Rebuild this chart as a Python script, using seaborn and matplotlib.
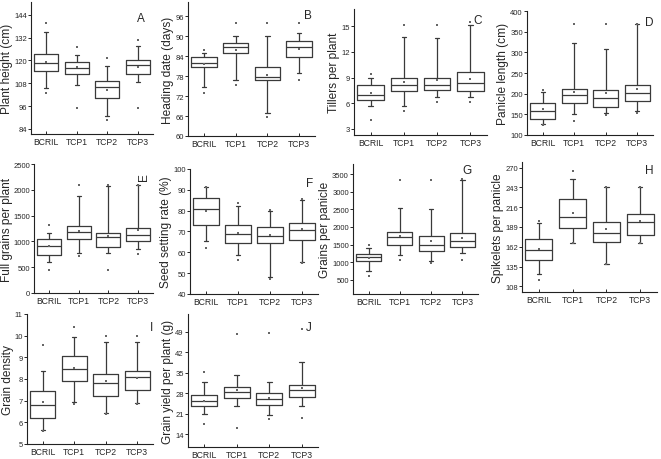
'''
Box plots of ten agronomic traits for BCRIL and three TCP populations.
'''
import matplotlib
matplotlib.use("Agg")
import matplotlib.pyplot as plt
import seaborn as sns
import pandas as pd

GROUPS = ["BCRIL", "TCP1", "TCP2", "TCP3"]

# each row: min, whisker low, Q1, median, Q3, whisker high, max, mean
PLANT_HEIGHT = [[102.8, 105.7, 114.4, 118.6, 123.4, 135.0, 139.7, 119.2],
                [95.0, 107.0, 112.9, 116.1, 119.3, 122.7, 127.0, 116.6],
                [88.8, 90.8, 100.1, 106.2, 109.1, 117.3, 121.3, 104.6],
                [95.0, 108.5, 112.9, 117.7, 120.0, 127.5, 130.6, 116.8]]
HEADING_DATE = [[72.8, 74.8, 80.9, 81.9, 83.9, 84.9, 85.9, 81.6],
                [75.3, 76.8, 84.9, 86.9, 87.9, 90.0, 94.0, 85.9],
                [65.8, 66.8, 76.8, 77.8, 80.9, 90.0, 94.0, 78.3],
                [76.8, 78.9, 83.9, 86.9, 88.7, 91.0, 94.0, 86.2]]
TILLERS = [[4.1, 5.7, 6.4, 7.0, 8.1, 9.0, 9.4, 7.25],
           [5.1, 5.7, 7.4, 8.1, 9.0, 13.7, 15.1, 8.5],
           [6.1, 6.7, 7.6, 8.1, 9.0, 13.6, 15.1, 8.7],
           [6.1, 6.7, 7.4, 8.4, 9.7, 15.1, 15.5, 8.8]]
PANICLE_LENGTH = [[124, 127, 139, 157, 177, 203, 209, 162],
                  [133, 152, 178, 197, 211, 322, 368, 203],
                  [148, 153, 168, 190, 210, 308, 368, 202],
                  [153, 158, 182, 201, 222, 368, 368, 212]]
FULL_GRAINS = [[450, 600, 740, 920, 1040, 1160, 1320, 910],
               [724, 775, 1047, 1176, 1292, 1886, 2093, 1208],
               [452, 775, 885, 1079, 1156, 2067, 2093, 1098],
               [762, 853, 1014, 1124, 1260, 2093, 2093, 1215]]
SEED_SETTING = [[62.0, 65.4, 73.3, 81.0, 86.2, 91.5, 91.5, 79.7],
                [56.2, 58.5, 64.3, 68.6, 73.0, 82.3, 83.9, 69.4],
                [47.4, 48.2, 64.6, 67.8, 72.3, 79.9, 80.2, 68.5],
                [55.0, 55.3, 65.9, 70.9, 74.3, 85.2, 85.5, 71.2]]
GRAINS_PANICLE = [[614, 737, 1022, 1146, 1221, 1411, 1487, 1127],
                  [1060, 1202, 1497, 1706, 1848, 2541, 3348, 1734],
                  [975, 1032, 1307, 1497, 1734, 2513, 3348, 1601],
                  [1060, 1250, 1430, 1592, 1820, 3348, 3367, 1696]]
SPIKELETS = [[116.2, 124.4, 144.0, 157.6, 173.0, 194.9, 196.7, 159.0],
             [166.7, 167.6, 187.6, 202.6, 226.8, 255.0, 265.0, 208.6],
             [138.0, 138.5, 168.5, 180.8, 195.8, 243.0, 243.0, 185.8],
             [166.7, 167.6, 178.5, 195.8, 207.2, 243.0, 243.0, 196.7]]
GRAIN_DENSITY = [[5.6, 5.65, 6.2, 6.8, 7.45, 8.35, 9.55, 6.95],
                 [6.85, 6.95, 7.9, 8.45, 9.05, 9.95, 10.4, 8.5],
                 [6.4, 6.45, 7.2, 7.82, 8.25, 9.7, 10.0, 7.9],
                 [6.85, 6.9, 7.47, 8.07, 8.35, 9.7, 10.0, 8.05]]
GRAIN_YIELD = [[17.4, 20.8, 23.5, 25.2, 27.3, 31.7, 35.1, 25.5],
               [16.3, 23.5, 26.5, 28.6, 30.0, 34.3, 48.2, 29.0],
               [19.1, 20.5, 23.9, 26.2, 28.2, 32.0, 48.4, 26.5],
               [19.7, 23.5, 26.9, 29.0, 30.9, 38.5, 49.9, 29.7]]

YLABELS = ["Plant height (cm)", "Heading date (days)", "Tillers per plant",
           "Panicle length (cm)", "Full grains per plant",
           "Seed setting rate (%)", "Grains per panicle",
           "Spikelets per panicle", "Grain density",
           "Grain yield per plant (g)"]
LETTERS = ["A", "B", "C", "D", "E", "F", "G", "H", "I", "J"]
YTICKS = [[84, 96, 108, 120, 132, 144],
          [60, 66, 72, 78, 84, 90, 96],
          [3, 6, 9, 12, 15],
          [100, 150, 200, 250, 300, 350, 400],
          [0, 500, 1000, 1500, 2000, 2500],
          [40, 50, 60, 70, 80, 90, 100],
          [500, 1000, 1500, 2000, 2500, 3000, 3500],
          [108, 135, 162, 189, 216, 243, 270],
          [5, 6, 7, 8, 9, 10, 11],
          [14, 21, 28, 35, 42, 49]]
YLIMS = [(81.3, 150.8), (60, 100.3), (2.3, 17), (100, 400), (0, 2500),
         (40, 100), (92, 3794), (100.3, 277.7), (5, 11), (9.7, 55)]

PANELS = [PLANT_HEIGHT, HEADING_DATE, TILLERS, PANICLE_LENGTH, FULL_GRAINS,
          SEED_SETTING, GRAINS_PANICLE, SPIKELETS, GRAIN_DENSITY, GRAIN_YIELD]

# axes boxes in pixels: left, top, right, bottom
RECTS = [(31, 3, 153, 135), (188, 3, 315, 137), (354, 10, 487, 136),
         (527, 12, 653, 136), (34, 165, 153, 294), (190, 170, 318, 295),
         (353, 165, 478, 295), (522, 163, 657, 293), (27, 315, 153, 445),
         (188, 315, 318, 448)]
LETTER_POS = [(145, 13), (312, 10), (482, 15), (653, 17), (150, 173),
              (313, 178), (472, 165), (653, 165), (153, 322), (312, 322)]
# y-label centre (x, px) for the panels that sit at the left edge
LABEL_X = {0: 7, 4: 7, 8: 8}

W, H = 661, 460
EDGE = "#3a3a3a"

sns.set_theme(style="ticks")
plt.rcParams["font.family"] = ["Liberation Sans", "DejaVu Sans"]

fig = plt.figure(figsize=(W / 100, H / 100), dpi=100)

for i, rows in enumerate(PANELS):
    l, t, r, b = RECTS[i]
    ax = fig.add_axes([l / W, 1 - b / H, (r - l) / W, (b - t) / H])

    box_df = pd.DataFrame(
        [(g, v) for g, row in zip(GROUPS, rows) for v in row[1:6]],
        columns=["group", "value"])
    pts_df = pd.DataFrame(
        [(g, row[k]) for g, row in zip(GROUPS, rows) for k in (0, 6, 7)],
        columns=["group", "value"])

    sns.boxplot(data=box_df, x="group", y="value", order=GROUPS,
                whis=(0, 100), width=0.8, fill=False, color=EDGE,
                linewidth=0.9, showfliers=False, capwidths=0.14, ax=ax)
    sns.stripplot(data=pts_df, x="group", y="value", order=GROUPS,
                  jitter=False, size=1.8, color="#666666", marker="s",
                  linewidth=0, ax=ax)

    ax.set_ylim(*YLIMS[i])
    ax.set_yticks(YTICKS[i])
    ax.set_xlim(-0.5, 3.5)
    ax.set_xlabel("")
    ax.set_ylabel(YLABELS[i], fontsize=8.6, labelpad=1)
    if i in LABEL_X:
        ax.yaxis.set_label_coords((LABEL_X[i] - l) / (r - l), 0.5)
        ax.yaxis.label.set_verticalalignment("center")
    ax.tick_params(axis="y", direction="out", length=2, width=0.7,
                   labelsize=5.5, pad=1)
    ax.tick_params(axis="x", direction="in", length=2.5, width=0.7,
                   labelsize=6.2, pad=2)
    sns.despine(ax=ax)
    for s in ("left", "bottom"):
        ax.spines[s].set_linewidth(0.8)
        ax.spines[s].set_color("#222222")

    lx, ly = LETTER_POS[i]
    fig.text(lx / W, 1 - ly / H, LETTERS[i], fontsize=8.5,
             ha="right", va="top", rotation=90 if LETTERS[i] == "E" else 0)

fig.savefig("out.png", dpi=100)
